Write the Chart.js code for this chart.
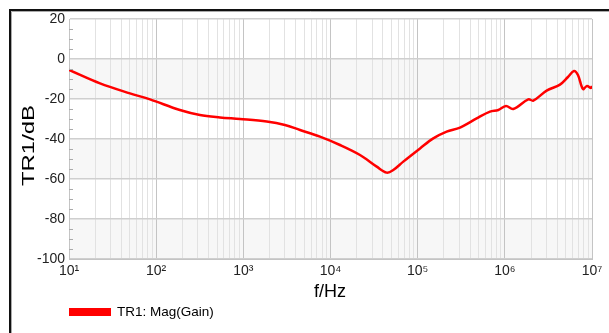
<!DOCTYPE html>
<html>
<head>
<meta charset="utf-8">
<script src="https://cdn.jsdelivr.net/npm/chart.js@4/dist/chart.umd.min.js"></script>
<style>
html,body{margin:0;padding:0;background:#fff;}
#wrap{width:609px;height:333px;position:relative;}
</style>
</head>
<body>
<div id="wrap"><canvas id="c" width="609" height="333"></canvas></div>
<script>
// Data
const freqHz = [10, 22.7, 50, 85, 187, 318, 540, 916, 1855, 3000, 4470, 7570, 12850, 21800, 33900, 44100, 52500, 68400, 106500, 151000, 215000, 306000, 475000, 676000, 842000, 1030000, 1250000, 1860000, 2120000, 3020000, 4290000, 5300000, 6210000, 6900000, 7880000, 8760000, 9720000, 10000000];
const gainDb = [-5.5, -12.2, -17.2, -20.2, -25.5, -28, -29.2, -30, -31.3, -33, -35.5, -38.8, -43, -48, -53.8, -56.8, -55.5, -51.3, -44.7, -39.7, -36.3, -34.3, -29.7, -26.3, -25.5, -23.5, -25, -20.2, -20.8, -15.8, -12.8, -9, -6, -8, -15, -13.5, -14.5, -13.5];
const yTicks = [20, 0, -20, -40, -60, -80, -100];
const xDecades = [1, 2, 3, 4, 5, 6, 7];
const seriesLabel = 'TR1: Mag(Gain)';
const xTitle = 'f/Hz';
const yTitle = 'TR1/dB';

const sup = {'0':'⁰','1':'¹','2':'²','3':'³','4':'⁴','5':'⁵','6':'⁶','7':'⁷','8':'⁸','9':'⁹'};

const decorPlugin = {
  id: 'decor',
  beforeDraw(chart) {
    const {ctx, chartArea: a, scales: {y}} = chart;
    ctx.save();
    ctx.fillStyle = '#f7f7f7';
    [[0,-20],[-40,-60],[-80,-100]].forEach(([t,b]) => {
      const y1 = y.getPixelForValue(t), y2 = y.getPixelForValue(b);
      ctx.fillRect(a.left, y1, a.right - a.left, y2 - y1);
    });
    ctx.restore();
  },
  afterDatasetsDraw(chart) {
  },
  afterDraw(chart) {
    const {ctx, chartArea: a, scales: {y}} = chart;
    ctx.save();
    // minor y ticks every 5 dB
    ctx.strokeStyle = '#aaa';
    ctx.lineWidth = 1;
    for (let v = 15; v > -100; v -= 5) {
      if (v % 20 === 0) continue;
      const py = Math.round(y.getPixelForValue(v)) + 0.5;
      ctx.beginPath(); ctx.moveTo(a.left, py); ctx.lineTo(a.left + 4, py); ctx.stroke();
    }
    // outer frame (top and left)
    ctx.strokeStyle = '#111';
    ctx.lineWidth = 2;
    ctx.beginPath(); ctx.moveTo(10, 333); ctx.lineTo(10, 10); ctx.lineTo(609, 10); ctx.stroke();
    ctx.strokeStyle = '#aaa';
    ctx.lineWidth = 1;
    ctx.beginPath(); ctx.moveTo(11.5, 333); ctx.lineTo(11.5, 11.5); ctx.lineTo(609, 11.5); ctx.stroke();
    // axis titles
    ctx.fillStyle = '#000';
    ctx.font = '18px "Liberation Sans", Arial, sans-serif';
    ctx.textAlign = 'center';
    ctx.textBaseline = 'middle';
    ctx.fillText(xTitle, 330, 292);
    ctx.save();
    ctx.translate(29, 145.5);
    ctx.rotate(-Math.PI / 2);
    ctx.font = '17px "Liberation Sans", Arial, sans-serif';
    const w = ctx.measureText(yTitle).width;
    ctx.scale(81 / w, 1);
    ctx.fillText(yTitle, 0, 0);
    ctx.restore();
    // legend
    const ds = chart.data.datasets[0];
    ctx.fillStyle = ds.borderColor;
    ctx.fillRect(69, 308, 42, 8);
    ctx.fillStyle = '#000';
    ctx.textAlign = 'left';
    ctx.font = '13.5px "Liberation Sans", Arial, sans-serif';
    ctx.fillText(ds.label, 117, 312.5);
    ctx.restore();
  }
};

const points = freqHz.map((f, i) => ({x: f, y: gainDb[i]}));

new Chart(document.getElementById('c'), {
  type: 'line',
  data: {
    datasets: [{
      label: seriesLabel,
      data: points,
      borderColor: '#ff0000',
      backgroundColor: '#ff0000',
      borderWidth: 2.5,
      pointRadius: 0,
      tension: 0.35,
      fill: false
    }]
  },
  options: {
    responsive: false,
    animation: false,
    layout: {padding: {top: 19, right: 17, left: 0, bottom: 0}},
    plugins: {legend: {display: false}, tooltip: {enabled: false}},
    scales: {
      x: {
        type: 'logarithmic',
        min: 10,
        max: 1e7,
        afterBuildTicks(scale) {
          const t = [];
          for (let d = 1; d <= 7; d++) {
            const base = Math.pow(10, d);
            t.push({value: base});
            if (d < 7) for (let m = 2; m <= 9; m++) t.push({value: m * base});
          }
          scale.ticks = t;
        },
        afterFit(scale) { scale.height = 74; },
        ticks: {
          autoSkip: false,
          maxRotation: 0,
          minRotation: 0,
          padding: 4,
          color: '#222',
          font: {family: '"Liberation Sans", Arial, sans-serif', size: 14},
          callback(v) {
            const e = Math.round(Math.log10(v));
            if (Math.abs(Math.pow(10, e) - v) < 1e-6 * v && xDecades.includes(e)) {
              return '10' + String(e).split('').map(c => sup[c]).join('');
            }
            return '';
          }
        },
        grid: {
          drawTicks: false,
          color(ctx) {
            const v = ctx.tick && ctx.tick.value;
            if (!v) return '#e2e2e2';
            const e = Math.log10(v);
            return Math.abs(e - Math.round(e)) < 1e-9 ? '#c4c4c4' : '#e2e2e2';
          },
          lineWidth: 1
        },
        border: {display: true, color: '#c4c4c4'}
      },
      y: {
        type: 'linear',
        min: -100,
        max: 20,
        afterBuildTicks(scale) { scale.ticks = yTicks.map(v => ({value: v})); },
        afterFit(scale) { scale.width = 69; },
        ticks: {
          padding: 4,
          color: '#222',
          font: {family: '"Liberation Sans", Arial, sans-serif', size: 14}
        },
        grid: {drawTicks: false, color: '#cfcfcf', lineWidth: 1.5},
        border: {display: true, color: '#c4c4c4'}
      }
    }
  },
  plugins: [decorPlugin]
});
</script>
</body>
</html>
